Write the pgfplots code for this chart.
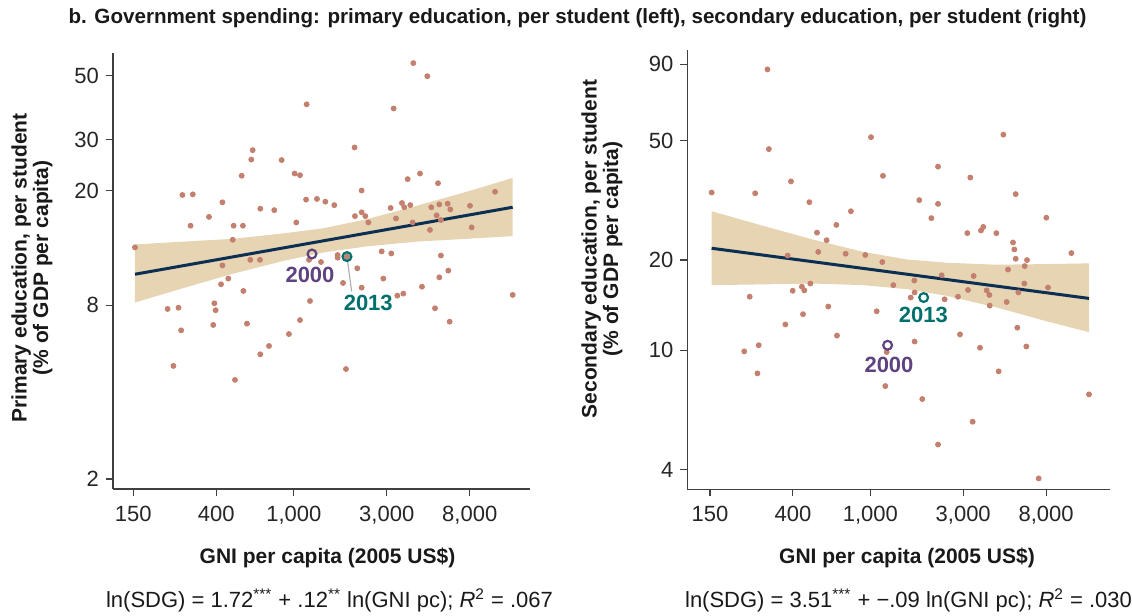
\documentclass[border=0pt]{standalone}
\usepackage{fontspec}
\setmainfont{Liberation Sans}
\usepackage{pgfplots}
\usepackage{pgfplotstable}
\pgfplotsset{compat=1.18}

\definecolor{dotc}{HTML}{C4806F}
\definecolor{bandc}{HTML}{E6D4B2}
\definecolor{fitc}{HTML}{0A2F52}
\definecolor{yr2000}{HTML}{5E4380}
\definecolor{yr2013}{HTML}{00706C}

% primary education, per student (left)
\pgfplotstableread{
gni sdg
153 12.7
268 19.3
303 19.4
295 15.1
367 16.2
430 18.2
491 15.1
548 15.1
486 13.5
540 22.5
605 25.6
615 27.6
673 17.3
794 17.1
866 25.5
1010 22.9
1076 22.6
1164 39.8
1156 18.6
1315 18.7
1452 18.3
1614 17.8
1030 15.5
2051 28.2
2230 20.0
2060 16.3
2230 16.8
2330 16.3
2414 15.5
3255 38.5
4108 55.3
4845 49.8
3141 17.4
3346 16.0
3591 18.1
3690 17.5
3963 17.8
3842 21.9
4446 22.9
4074 15.5
5500 21.2
5080 17.5
5585 17.9
6164 18.0
6361 17.2
5410 16.4
5690 15.8
5000 14.6
8026 17.7
10790 19.8
8187 14.9
2825 12.3
3166 12.1
5690 11.9
430 11.0
598 11.5
670 11.5
1197 11.5
1379 11.3
1679 11.95
1679 11.7
1875 11.8
2118 10.75
2881 9.9
6210 10.55
5585 10.0
4550 9.28
423 9.46
461 9.9
1789 9.56
2230 9.21
551 8.97
225 7.77
256 7.85
264 6.55
391 8.13
397 7.69
386 6.84
575 6.91
241 4.93
499 4.41
673 5.41
746 5.78
944 6.36
1076 7.11
1211 8.28
1853 4.81
3400 8.64
3650 8.78
5307 7.81
6310 7.02
13290 8.69
}\primary

% secondary education, per student (right)
\pgfplotstableread{
gni sdg
153 33.6
256 33.4
296 86.5
301 46.9
391 36.6
486 31.2
1008 51.4
1161 38.2
795 29.1
669 26.2
532 24.7
596 23.3
540 21.3
376 20.7
747 21.0
942 20.8
1152 19.7
1785 31.7
2227 41.0
2227 30.8
2058 27.6
3264 37.7
4825 52.4
5583 33.2
8022 27.7
3151 24.6
3703 25.1
3807 25.8
4441 24.6
5408 22.9
5495 21.7
5583 20.2
6383 20.0
6209 19.1
5098 18.6
10790 21.1
2326 17.8
3395 17.7
1313 16.5
1683 17.1
445 16.3
492 16.7
399 15.8
458 15.85
3176 15.9
3960 15.85
6185 16.7
8183 16.2
240 15.1
451 13.2
366 12.2
608 14.0
1078 13.5
674 11.2
225 9.92
267 10.4
263 8.38
1689 15.6
1612 15.0
2409 14.8
2821 15.1
4088 15.3
4104 14.1
5762 15.6
5018 14.5
5693 11.9
6333 10.3
2889 11.3
3660 10.2
1689 10.7
1194 7.60
1849 6.88
4564 8.51
3356 5.78
2227 4.85
7328 3.74
13290 7.13
1213 9.87
}\secondary

\begin{document}
\begin{tikzpicture}
\path[use as bounding box] (0pt,0pt) rectangle (566pt,308pt);

\node[font=\bfseries\fontsize{10.3}{12}\selectfont, text=black!90] at (288.75pt,299pt)
  {b. Government spending: primary education, per student (left), secondary education, per student (right)};

% ---- left panel
\begin{axis}[
  scale only axis, anchor=south west,
  at={(56.5pt,63.5pt)}, width=208.5pt, height=218pt,
  xmode=log, ymode=log,
  xmin=118, xmax=16315, ymin=1.846, ymax=59.95,
  axis x line*=bottom, axis y line*=left,
  axis line style={black!75, line width=0.7pt},
  every tick/.style={black!75, line width=0.6pt},
  tick align=outside, major tick length=3.5pt,
  xminorticks=false, yminorticks=false,
  xtick={150,400,1000,3000,8000},
  xticklabels={150,400,{1,000},{3,000},{8,000}},
  ytick={2,8,20,30,50}, yticklabels={2,8,20,30,50},
  tick label style={font=\fontsize{11}{12}\selectfont, text=black!85},
  xticklabel style={yshift=-1.5pt},
  clip=false]
  % 95% band, upper edge then lower edge back
  \addplot[fill=bandc, draw=none] coordinates {
    (153,13.0) (271,13.3) (489,13.6) (883,14.2) (1423,14.8)
    (2366,15.9) (4273,17.7) (7716,19.8) (13290,22.1)
    (13290,13.9) (7716,13.6) (4273,13.3) (2366,12.8) (1423,12.2)
    (883,11.4) (489,10.3) (271,9.18) (153,8.18)} -- cycle;
  \addplot[only marks, mark=*, mark size=1.25pt, color=dotc] table[x=gni, y=sdg] {\primary};
  \addplot[fitc, line width=1.5pt] coordinates {(153,10.25) (13290,17.5)};
  \addplot[gray!60, line width=0.6pt] coordinates {(1875,11.8) (1982,8.92)};
  \addplot[only marks, mark=o, mark size=2.2pt, color=yr2000,
    mark options={line width=1.1pt, fill=white}] coordinates {(1240,12.05)};
  \addplot[only marks, mark=o, mark size=2.2pt, color=yr2013,
    mark options={line width=1.1pt, fill=white}] coordinates {(1875,11.8)};
  \node[font=\bfseries\fontsize{11}{12}\selectfont, text=yr2000] at (axis cs:1211,10.2) {2000};
  \node[font=\bfseries\fontsize{11}{12}\selectfont, text=yr2013] at (axis cs:2411,8.13) {2013};
\end{axis}

% ---- right panel
\begin{axis}[
  scale only axis, anchor=south west,
  at={(343.65pt,63.35pt)}, width=211.35pt, height=219.65pt,
  xmode=log, ymode=log,
  xmin=114.7, xmax=17040, ymin=3.44, ymax=100.4,
  axis x line*=bottom, axis y line*=left,
  axis line style={black!75, line width=0.7pt},
  every tick/.style={black!75, line width=0.6pt},
  tick align=outside, major tick length=3.5pt,
  xminorticks=false, yminorticks=false,
  xtick={150,400,1000,3000,8000},
  xticklabels={150,400,{1,000},{3,000},{8,000}},
  ytick={4,10,20,50,90}, yticklabels={4,10,20,50,90},
  tick label style={font=\fontsize{11}{12}\selectfont, text=black!85},
  xticklabel style={yshift=-1.5pt},
  clip=false]
  \addplot[fill=bandc, draw=none] coordinates {
    (153,29.1) (282,26.0) (509,23.4) (920,21.3) (1537,20.1)
    (2467,19.6) (4457,19.3) (8054,19.4) (13290,19.5)
    (13290,11.5) (8054,12.5) (4457,13.9) (2467,15.2) (1537,16.0)
    (920,16.5) (509,16.7) (282,16.6) (153,16.5)} -- cycle;
  \addplot[only marks, mark=*, mark size=1.25pt, color=dotc] table[x=gni, y=sdg] {\secondary};
  \addplot[fitc, line width=1.5pt] coordinates {(153,21.9) (13290,14.9)};
  \addplot[only marks, mark=o, mark size=2.2pt, color=yr2000,
    mark options={line width=1.1pt, fill=white}] coordinates {(1227,10.4)};
  \addplot[only marks, mark=o, mark size=2.2pt, color=yr2013,
    mark options={line width=1.1pt, fill=white}] coordinates {(1879,15.0)};
  \node[font=\bfseries\fontsize{11}{12}\selectfont, text=yr2000] at (axis cs:1247,8.93) {2000};
  \node[font=\bfseries\fontsize{11}{12}\selectfont, text=yr2013] at (axis cs:1871,13.1) {2013};
\end{axis}

% axis titles
\node[rotate=90, align=center, font=\bfseries\fontsize{10.5}{10.75}\selectfont, text=black!90]
  at (16pt,174pt) {Primary education, per student\\(\% of GDP per capita)};
\node[rotate=90, align=center, font=\bfseries\fontsize{10.5}{10.75}\selectfont, text=black!90]
  at (301pt,183.5pt) {Secondary education, per student\\(\% of GDP per capita)};
\node[font=\bfseries\fontsize{10.5}{12}\selectfont, text=black!90] at (163.75pt,29pt)
  {GNI per capita (2005 US\$)};
\node[font=\bfseries\fontsize{10.5}{12}\selectfont, text=black!90] at (453.5pt,29pt)
  {GNI per capita (2005 US\$)};

% regression equations
\node[font=\fontsize{11}{12}\selectfont, text=black!90] at (164.75pt,8pt)
  {ln(SDG) = 1.72\textsuperscript{***} + .12\textsuperscript{**} ln(GNI pc); \textit{R}\textsuperscript{2} = .067};
\node[font=\fontsize{11}{12}\selectfont, text=black!90] at (454.25pt,8pt)
  {ln(SDG) = 3.51\textsuperscript{***} + −.09 ln(GNI pc); \textit{R}\textsuperscript{2} = .030};
\end{tikzpicture}
\end{document}
